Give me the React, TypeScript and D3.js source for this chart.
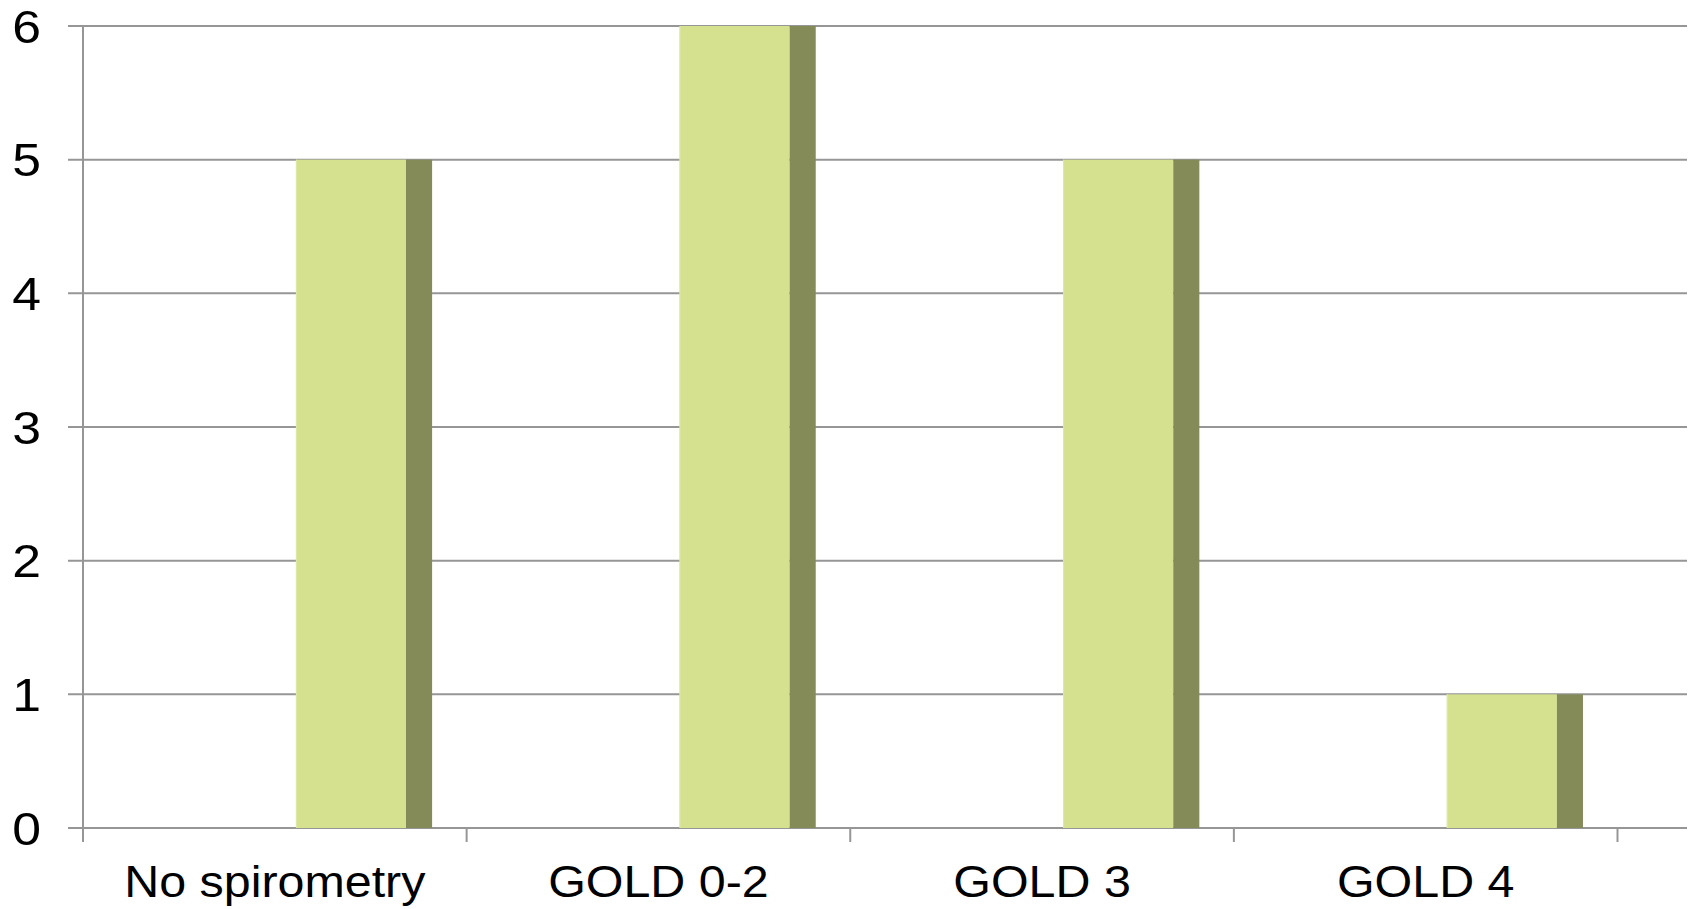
import React from "react";
import * as d3 from "d3";

const categories = ["No spirometry", "GOLD 0-2", "GOLD 3", "GOLD 4"];
const values = [5, 6, 5, 1];
const yTicks = [0, 1, 2, 3, 4, 5, 6];

const W = 1694;
const H = 909;
const left = 83;
const bandRight = 1617.5;
const gridRight = 1687;
const top = 26;
const bottom = 828;

const LIGHT = "#d5e18f";
const DARK = "#848b59";
const GRID = "#969696";
const STRETCH = 1.1;

export default function App() {
  const x = d3.scaleBand<string>().domain(categories).range([left, bandRight]).padding(0);
  const y = d3.scaleLinear().domain([0, 6]).range([bottom, top]);
  const bw = x.bandwidth();

  const boundaries = d3.range(categories.length + 1).map((i) => left + i * bw);

  return (
    <svg
      width={W}
      height={H}
      style={{ position: "fixed", left: 0, top: 0, background: "#fff" }}
      fontFamily="'Liberation Sans', Arial, sans-serif"
    >
      {/* horizontal gridlines with left tick stubs */}
      {yTicks.map((t) => (
        <line key={"g" + t} x1={68} x2={gridRight} y1={y(t)} y2={y(t)} stroke={GRID} strokeWidth={2} />
      ))}
      {/* y axis */}
      <line x1={left} x2={left} y1={top} y2={bottom + 14} stroke={GRID} strokeWidth={2} />
      {/* category boundary ticks */}
      {boundaries.map((bx, i) => (
        <line key={"t" + i} x1={bx} x2={bx} y1={bottom} y2={bottom + 14} stroke={GRID} strokeWidth={2} />
      ))}
      {/* bars: front face + darker side face */}
      {categories.map((c, i) => {
        const x0 = (x(c) as number) + bw * 0.555;
        const fw = bw * 0.287;
        const sw = bw * 0.068;
        const yt = y(values[i]);
        return (
          <g key={"b" + c}>
            <rect x={x0} y={yt} width={fw} height={bottom - yt} fill={LIGHT} />
            <line x1={x0 + 0.5} x2={x0 + 0.5} y1={yt} y2={bottom} stroke="#dfe8a6" strokeWidth={1} />
            <rect x={x0 + fw} y={yt} width={sw} height={bottom - yt} fill={DARK} />
          </g>
        );
      })}
      {/* y tick labels */}
      {yTicks.map((t) => (
        <g key={"yl" + t} transform={`translate(41,${y(t) + 47 * 0.358}) scale(${STRETCH},1)`}>
          <text textAnchor="end" fontSize={47} fill="#000">
            {t}
          </text>
        </g>
      ))}
      {/* category labels */}
      {categories.map((c) => (
        <g key={"xl" + c} transform={`translate(${(x(c) as number) + bw / 2},897) scale(${STRETCH},1)`}>
          <text textAnchor="middle" fontSize={44} fill="#000">
            {c}
          </text>
        </g>
      ))}
    </svg>
  );
}
